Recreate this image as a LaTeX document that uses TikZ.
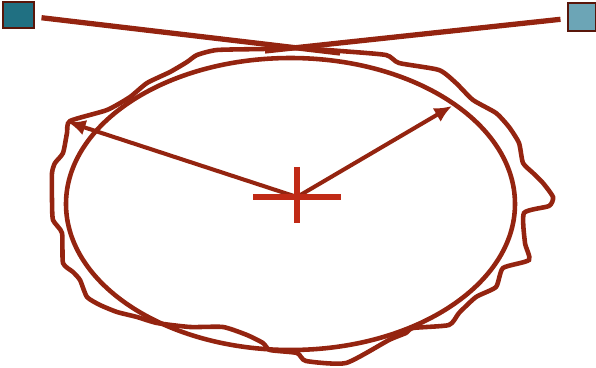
\documentclass[tikz,border=0pt]{standalone}
\usepackage{xcolor}
\usetikzlibrary{arrows, arrows.meta}
\usetikzlibrary{math}
\definecolor{myrust}{RGB}{148,36,16}
\definecolor{myred}{RGB}{192,42,22}
\definecolor{myteal}{RGB}{32,112,130}
\definecolor{mylightteal}{RGB}{108,165,182}

\begin{document}
\begin{tikzpicture}[x=0.02cm,y=-0.02cm]
\tikzmath{
\cx=290.5;
\cy=204;
\a=224.5;
\b=146;
}
\useasboundingbox (0,0) rectangle (596,368);

\node[draw=myrust!60!black, fill=myteal, line width=0.6pt, inner sep=0, minimum width=0.62cm, minimum height=0.52cm] (sensorL) at (18.5,15) {};
\node[draw=myrust!60!black, fill=mylightteal, line width=0.6pt, inner sep=0, minimum width=0.56cm, minimum height=0.56cm] (sensorR) at (582,17) {};
\coordinate (endL) at (340,53);
\coordinate (endR) at (265,51);
\draw[myrust, line width=3pt, shorten <=4pt] (sensorL) -- (endL);
\draw[myrust, line width=3pt, shorten <=4pt] (sensorR) -- (endR);

\draw[myrust, line width=2.6pt] (\cx,\cy) ellipse ({\a} and {\b});

\draw[myrust, line width=2.6pt] plot[smooth cycle, tension=0.35] coordinates {
(70,121) (107,110) (130,97) (147,83) (170,72) (187,62) (197,55) (217,50)
(263,49) (296,48) (340,51) (386,55) (399,63) (439,70) (456,83) (473,100)
(496,113) (509,127) (519,143) (523,163) (533,173) (543,183) (553,197)
(549,206) (524,213) (525,243) (529,260) (503,268) (496,287) (476,297)
(459,313) (449,325) (413,328) (406,333) (389,340) (346,363) (306,361)
(297,353) (270,350) (263,343) (247,335) (223,327) (190,327) (157,323)
(137,317) (117,312) (100,305) (87,297) (80,280) (73,272) (63,263)
(62,233) (53,220) (52,200) (52,173) (55,163) (63,153) (67,133)};

\coordinate (centre) at (297,197);
\coordinate (tipL) at (68,122);
\coordinate (tipR) at (452,106);
\draw[-{Latex[length=10pt,width=9pt]}, myrust, line width=2.3pt] (centre) -- (tipL);
\draw[-{Latex[length=10pt,width=9pt]}, myrust, line width=2.3pt] (centre) -- (tipR);

\draw[myred, line width=3pt] (centre) ++(-44,0) -- ++(88,0);
\draw[myred, line width=3pt] (centre) ++(0,-30) -- ++(0,56);
\end{tikzpicture}
\end{document}
